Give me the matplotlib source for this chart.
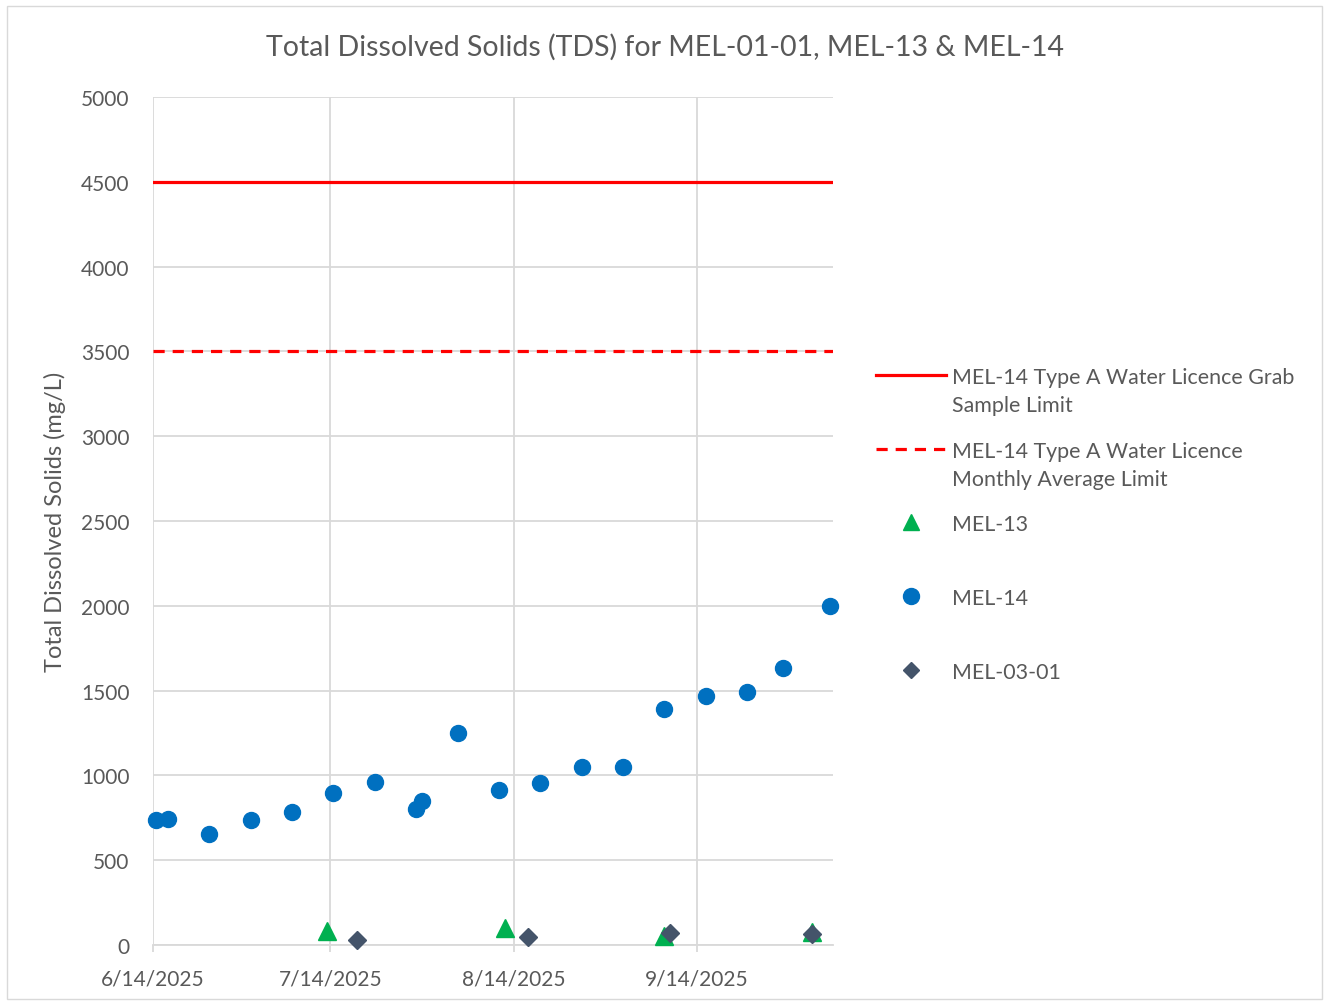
import datetime as dt
import matplotlib.pyplot as plt
from matplotlib.lines import Line2D
from matplotlib.patches import Rectangle

# data (samples taken around midday)
mel14_dates = ['2025-06-14', '2025-06-16', '2025-06-23', '2025-06-30', '2025-07-07',
               '2025-07-14', '2025-07-21', '2025-07-28', '2025-07-29', '2025-08-04',
               '2025-08-11', '2025-08-18', '2025-08-25', '2025-09-01', '2025-09-08',
               '2025-09-15', '2025-09-22', '2025-09-28', '2025-10-06']
mel14_tds = [735, 741, 657, 735, 784, 896, 959, 804, 851, 1249,
             916, 955, 1049, 1049, 1390, 1471, 1490, 1631, 2000]

mel13_dates = ['2025-07-13', '2025-08-12', '2025-09-08', '2025-10-03']
mel13_tds = [81, 98, 52, 78]

mel0301_dates = ['2025-07-18', '2025-08-16', '2025-09-09', '2025-10-03']
mel0301_tds = [32, 50, 72, 63]

grab_limit = 4500
monthly_limit = 3500

tick_dates = ['2025-06-14', '2025-07-14', '2025-08-14', '2025-09-14']
x_start = '2025-06-14'
x_end = '2025-10-07'

to_date = lambda s: dt.datetime.strptime(s, '%Y-%m-%d')
to_sample = lambda s: to_date(s) + dt.timedelta(hours=12)

txt = '#595959'
grid_c = '#D9D9D9'
plt.rcParams['font.family'] = ['Lato', 'DejaVu Sans']

fig = plt.figure(figsize=(13.25, 10.04), dpi=100)
ax = fig.add_axes([153 / 1325, 1 - 946 / 1004, (833 - 153) / 1325, (946 - 98) / 1004])

# limit lines
ax.axhline(grab_limit, color='#FF0000', lw=2.3, zorder=2)
ax.axhline(monthly_limit, color='#FF0000', lw=2.3, ls=(0, (3.5, 2.5)), zorder=2)

# points (Excel doesn't clip markers at the plot edge)
ax.plot([to_sample(d) for d in mel13_dates], mel13_tds, ls='none', marker='^',
        ms=13, color='#00B050', zorder=3, clip_on=False)
ax.plot([to_sample(d) for d in mel14_dates], mel14_tds, ls='none', marker='o',
        ms=11.5, color='#0070C0', zorder=3, clip_on=False)
ax.plot([to_sample(d) for d in mel0301_dates], mel0301_tds, ls='none', marker='D',
        ms=9, color='#44546A', zorder=4, clip_on=False)

ax.set_xlim(to_date(x_start), to_date(x_end))
ax.set_ylim(0, 5000)
ax.set_yticks(range(0, 5001, 500))
ticks = [to_date(d) for d in tick_dates]
ax.set_xticks(ticks)
ax.set_xticklabels([f'{d.month}/{d.day}/{d.year}' for d in ticks])

ax.grid(True, color=grid_c, lw=1.3)
ax.set_axisbelow(True)
for s in ['top', 'right', 'left']:
    ax.spines[s].set_visible(False)
ax.spines['bottom'].set_color(grid_c)
ax.spines['bottom'].set_linewidth(1.3)
ax.tick_params(axis='y', length=0, pad=17, labelsize=15, labelcolor=txt)
ax.tick_params(axis='x', length=5, width=1.3, color=grid_c, pad=12, labelsize=15, labelcolor=txt)

ax.set_ylabel('Total Dissolved Solids (mg/L)', fontsize=17, color=txt, labelpad=11)
fig.text(0.502, 1 - 47 / 1004, 'Total Dissolved Solids (TDS) for MEL-01-01, MEL-13 & MEL-14',
         ha='center', va='center', fontsize=20.5, color=txt)

# legend drawn by hand so the spacing matches
leg_x0, leg_x1, leg_tx = 876 / 1325, 946 / 1325, 952 / 1325
entries = [
    (376, ['MEL-14 Type A Water Licence Grab', 'Sample Limit'], dict(color='#FF0000', lw=2.3)),
    (450, ['MEL-14 Type A Water Licence', 'Monthly Average Limit'],
     dict(color='#FF0000', lw=2.3, ls=(0, (3.5, 2.5)))),
    (523, ['MEL-13'], dict(marker='^', ms=11, color='#00B050', ls='none')),
    (597, ['MEL-14'], dict(marker='o', ms=11.5, color='#0070C0', ls='none')),
    (671, ['MEL-03-01'], dict(marker='D', ms=8, color='#44546A', ls='none')),
]
for ypx, lines, style in entries:
    y = 1 - ypx / 1004
    if style.get('ls') == 'none':
        fig.add_artist(Line2D([(leg_x0 + leg_x1) / 2], [y], **style))
    else:
        fig.add_artist(Line2D([leg_x0, leg_x1], [y, y], **style))
    for i, line in enumerate(lines):
        fig.text(leg_tx, 1 - (ypx + 28 * i) / 1004, line, ha='left', va='center_baseline',
                 fontsize=15.4, color=txt)

fig.add_artist(Rectangle((7 / 1325, 4 / 1004), 1315 / 1325, 993 / 1004,
                         transform=fig.transFigure, fill=False, ec=grid_c, lw=1))

plt.savefig('out.png', dpi=100)
